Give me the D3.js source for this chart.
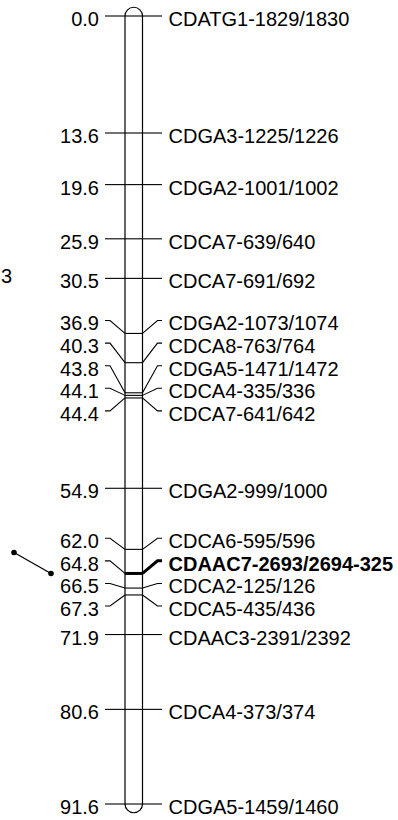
<!DOCTYPE html>
<html>
<head>
<meta charset="utf-8">
<script src="https://cdn.jsdelivr.net/npm/d3@7"></script>
<style>
  body { margin: 0; background: #fff; }
  svg text { font-family: "Liberation Sans", Arial, sans-serif; fill: #000; }
</style>
</head>
<body>
<svg id="map" width="398" height="820"></svg>
<script>
// linkage map positions (cM) and marker names
var positions = [0.0, 13.6, 19.6, 25.9, 30.5, 36.9, 40.3, 43.8, 44.1, 44.4,
                 54.9, 62.0, 64.8, 66.5, 67.3, 71.9, 80.6, 91.6];
var markers = ["CDATG1-1829/1830", "CDGA3-1225/1226", "CDGA2-1001/1002",
               "CDCA7-639/640", "CDCA7-691/692", "CDGA2-1073/1074",
               "CDCA8-763/764", "CDGA5-1471/1472", "CDCA4-335/336",
               "CDCA7-641/642", "CDGA2-999/1000", "CDCA6-595/596",
               "CDAAC7-2693/2694-325", "CDCA2-125/126", "CDCA5-435/436",
               "CDAAC3-2391/2392", "CDCA4-373/374", "CDGA5-1459/1460"];
var highlighted = ["CDAAC7-2693/2694-325"];
var groupLabel = "3";

var svg = d3.select("#map");
var y = d3.scaleLinear().domain([0, d3.max(positions)]).range([16, 804]);

var chrL = 125, chrR = 142.5, r = (chrR - chrL) / 2;
var spacing = 22.6;

// spread labels: merge crowded markers into clusters centred on their span
var clusters = positions.map(function (p, i) { return { first: i, last: i }; });
function place(c) {
  var n = c.last - c.first + 1;
  var mid = (y(positions[c.first]) + y(positions[c.last])) / 2;
  return mid - (n - 1) * spacing / 2;
}
var merged = true;
while (merged) {
  merged = false;
  for (var i = 0; i < clusters.length - 1; i++) {
    var a = clusters[i], b = clusters[i + 1];
    var aBottom = place(a) + (a.last - a.first) * spacing;
    if (place(b) - aBottom < spacing) {
      clusters.splice(i, 2, { first: a.first, last: b.last });
      merged = true;
      break;
    }
  }
}
var labelY = [];
clusters.forEach(function (c) {
  var t = place(c);
  for (var k = c.first; k <= c.last; k++) labelY[k] = t + (k - c.first) * spacing;
});

var data = positions.map(function (p, i) {
  return { pos: p, name: markers[i], y: y(p), ly: labelY[i],
           bold: highlighted.indexOf(markers[i]) >= 0 };
});

var g = svg.append("g");

// left connectors
g.selectAll(".left").data(data).enter().append("path")
  .attr("d", function (d) { return "M105," + d.ly + "H110L" + chrL + "," + d.y; })
  .attr("fill", "none").attr("stroke", "#000").attr("stroke-width", 1.1);

// crossbars inside chromosome
g.selectAll(".bar").data(data).enter().append("path")
  .attr("d", function (d) { return "M" + chrL + "," + d.y + "H" + chrR; })
  .attr("stroke", "#000")
  .attr("stroke-width", function (d) { return d.bold ? 3 : 1.1; });

// right connectors
g.selectAll(".right").data(data).enter().append("path")
  .attr("d", function (d) { return "M" + chrR + "," + d.y + "L157.5," + d.ly + "H162"; })
  .attr("fill", "none").attr("stroke", "#000")
  .attr("stroke-width", function (d) { return d.bold ? 3 : 1.1; });

// chromosome outline with rounded ends
var yTop = y(0), yBot = y(d3.max(positions));
g.append("path")
  .attr("d", "M" + chrL + "," + yBot + "V" + yTop +
             "A" + r + "," + r + " 0 0 1 " + chrR + "," + yTop +
             "V" + yBot +
             "A" + r + "," + r + " 0 0 1 " + chrL + "," + yBot)
  .attr("fill", "none").attr("stroke", "#000").attr("stroke-width", 1.2);

// position labels
g.selectAll(".pos").data(data).enter().append("text")
  .attr("x", 99).attr("y", function (d) { return d.ly + 10; })
  .attr("text-anchor", "end").attr("font-size", 20)
  .text(function (d) { return d.pos.toFixed(1); });

// marker labels
g.selectAll(".name").data(data).enter().append("text")
  .attr("x", 168.5).attr("y", function (d) { return d.ly + 10; })
  .attr("font-size", 20)
  .attr("font-weight", function (d) { return d.bold ? "bold" : "normal"; })
  .text(function (d) { return d.name; });

// pin pointing at highlighted marker
data.filter(function (d) { return d.bold; }).forEach(function (d) {
  var pts = [[14, d.y - 21], [51, d.y]];
  g.append("line")
    .attr("x1", pts[0][0]).attr("y1", pts[0][1])
    .attr("x2", pts[1][0]).attr("y2", pts[1][1])
    .attr("stroke", "#000").attr("stroke-width", 1.3);
  g.selectAll(null).data(pts).enter().append("circle")
    .attr("cx", function (p) { return p[0]; }).attr("cy", function (p) { return p[1]; })
    .attr("r", 2.8).attr("fill", "#000");
});

// group label at left edge
g.append("text").attr("x", 12).attr("y", 283)
  .attr("text-anchor", "end").attr("font-size", 20)
  .text(groupLabel);
</script>
</body>
</html>
